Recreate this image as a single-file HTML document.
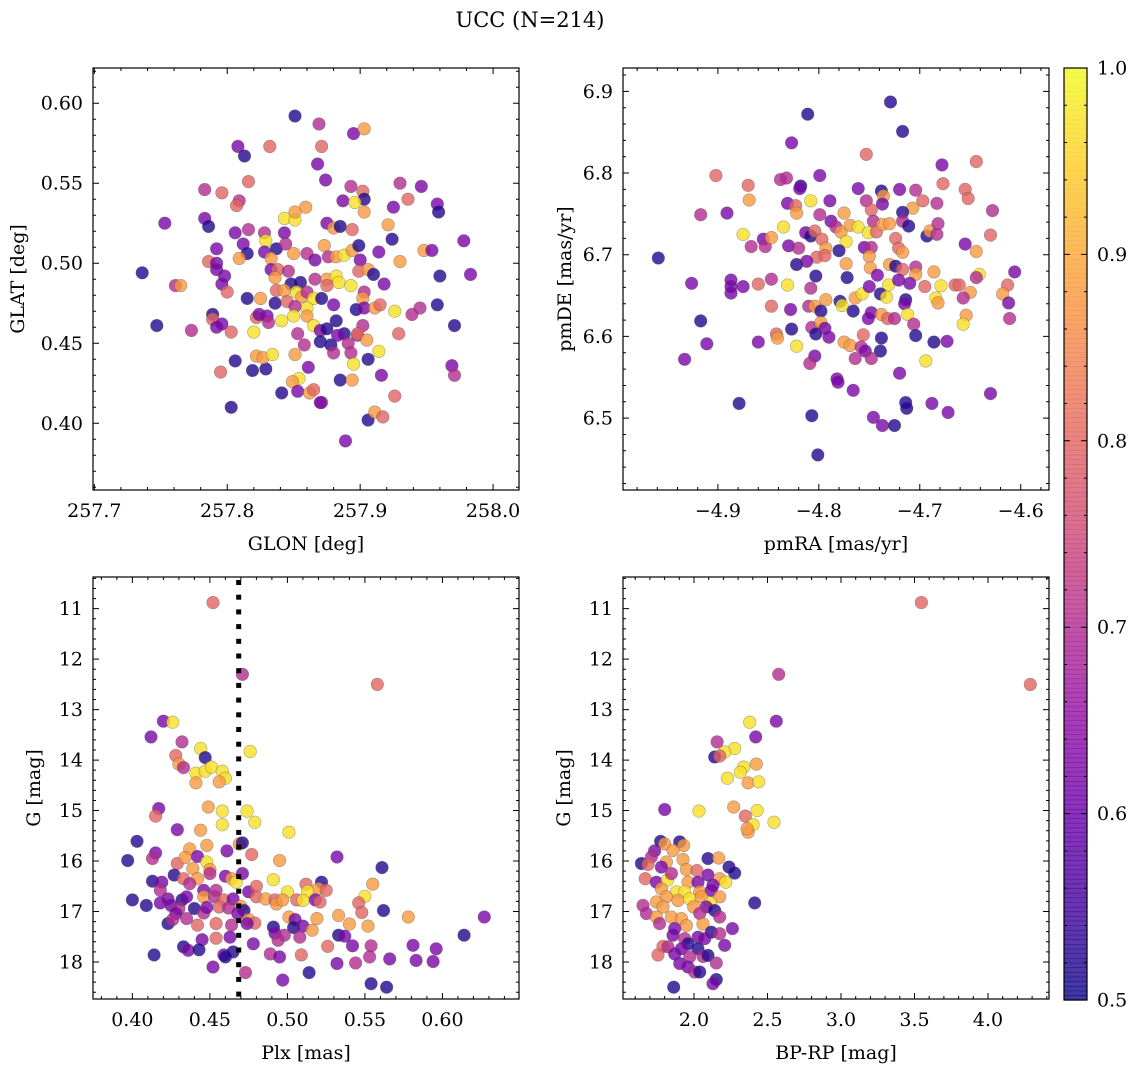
<!DOCTYPE html>
<html><head><meta charset="utf-8">
<style>
html,body{margin:0;padding:0;background:#fff;}
svg{display:block;font-family:"DejaVu Serif","Liberation Serif",serif;}
</style></head>
<body>
<svg id="fig" width="1136" height="1067" viewBox="0 0 1136 1067" xmlns="http://www.w3.org/2000/svg">
<rect width="1136" height="1067" fill="#fff"/>
<text x="530" y="27" font-size="21" text-anchor="middle">UCC (N=214)</text>
</svg>
<script>
// ---- Panel 1: GLON vs GLAT ----
const p1x=[257.851,257.869,257.895,257.903,257.808,257.813,257.832,257.871,257.868,257.874,257.816,257.783,257.796,257.893,257.902,257.903,257.930,257.946,257.936,257.887,257.896,257.903,257.925,257.958,257.959,257.809,257.807,257.859,257.843,257.851,257.851,257.753,257.783,257.786,257.806,257.816,257.828,257.843,257.875,257.880,257.885,257.894,257.921,257.924,257.978,257.829,257.792,257.812,257.815,257.809,257.828,257.837,257.844,257.850,257.860,257.866,257.873,257.876,257.882,257.888,257.894,257.899,257.900,257.914,257.930,257.948,257.954,257.960,257.983,257.736,257.786,257.792,257.792,257.798,257.796,257.800,257.761,257.765,257.833,257.833,257.838,257.846,257.836,257.848,257.855,257.866,257.875,257.882,257.884,257.893,257.899,257.906,257.910,257.918,257.903,257.902,257.815,257.825,257.837,257.836,257.843,257.845,257.852,257.856,257.860,257.865,257.871,257.875,257.880,257.860,257.851,257.897,257.903,257.911,257.915,257.926,257.939,257.945,257.958,257.971,257.747,257.773,257.789,257.789,257.792,257.796,257.803,257.822,257.824,257.830,257.831,257.841,257.850,257.860,257.865,257.870,257.875,257.882,257.888,257.898,257.902,257.898,257.905,257.914,257.929,257.820,257.853,257.858,257.870,257.878,257.880,257.883,257.891,257.893,257.895,257.906,257.916,257.926,257.969,257.971,257.806,257.795,257.819,257.829,257.822,257.827,257.834,257.851,257.861,257.854,257.849,257.853,257.841,257.862,257.865,257.871,257.870,257.885,257.894,257.803,257.906,257.911,257.917,257.889];
const p1y=[0.592,0.587,0.581,0.584,0.573,0.567,0.573,0.573,0.562,0.552,0.551,0.546,0.544,0.548,0.545,0.540,0.550,0.548,0.540,0.539,0.538,0.532,0.535,0.537,0.532,0.539,0.536,0.535,0.528,0.527,0.532,0.525,0.528,0.523,0.519,0.521,0.519,0.519,0.525,0.522,0.523,0.521,0.524,0.515,0.514,0.514,0.509,0.512,0.506,0.503,0.507,0.509,0.512,0.506,0.506,0.502,0.511,0.504,0.504,0.505,0.508,0.511,0.502,0.507,0.501,0.508,0.508,0.492,0.493,0.494,0.501,0.500,0.496,0.492,0.487,0.482,0.486,0.486,0.503,0.496,0.496,0.495,0.491,0.487,0.488,0.490,0.490,0.492,0.488,0.486,0.495,0.496,0.493,0.487,0.482,0.478,0.478,0.478,0.483,0.475,0.483,0.476,0.482,0.479,0.482,0.478,0.478,0.486,0.474,0.472,0.473,0.471,0.472,0.472,0.474,0.470,0.468,0.472,0.474,0.461,0.461,0.458,0.468,0.465,0.460,0.462,0.457,0.466,0.468,0.467,0.463,0.464,0.467,0.467,0.461,0.458,0.459,0.464,0.456,0.455,0.461,0.456,0.452,0.445,0.456,0.457,0.456,0.449,0.451,0.449,0.444,0.455,0.450,0.444,0.437,0.440,0.430,0.417,0.436,0.430,0.439,0.432,0.433,0.434,0.442,0.441,0.443,0.443,0.435,0.428,0.426,0.420,0.419,0.419,0.421,0.413,0.413,0.427,0.427,0.410,0.402,0.407,0.404,0.389];
const p1c=[.52,.70,.62,.88,.62,.52,.80,.80,.62,.62,.80,.70,.80,.70,.80,.52,.70,.62,.80,.62,.97,.88,.62,.62,.52,.70,.80,.88,.97,.97,.88,.62,.62,.52,.62,.70,.70,.62,.62,.88,.52,.80,.88,.52,.62,.97,.62,.62,.52,.88,.62,.52,.70,.88,.70,.62,.88,.70,.88,.97,.88,.52,.62,.62,.88,.88,.62,.52,.62,.52,.80,.62,.62,.62,.62,.80,.70,.88,.88,.62,.80,.70,.88,.52,.52,.70,.88,.97,.97,.97,.80,.88,.52,.62,.70,.88,.52,.88,.80,.52,.88,.80,.97,.88,.70,.97,.52,.80,.62,.97,.70,.52,.62,.88,.80,.97,.70,.70,.52,.52,.52,.70,.52,.80,.62,.62,.80,.80,.62,.62,.70,.97,.97,.88,.97,.62,.52,.52,.52,.70,.70,.80,.88,.97,.80,.97,.70,.70,.52,.52,.70,.62,.70,.70,.97,.52,.62,.80,.62,.70,.52,.80,.52,.52,.88,.88,.97,.88,.62,.97,.88,.62,.52,.88,.80,.70,.62,.52,.88,.52,.52,.88,.80,.62];
const p1xTicks=[257.7,257.8,257.9,258.0];
const p1yTicks=[0.40,0.45,0.50,0.55,0.60];

// ---- Panel 2: pmRA vs pmDE ----
const p2x=[-4.729,-4.811,-4.717,-4.827,-4.753,-4.678,-4.644,-4.902,-4.799,-4.838,-4.832,-4.870,-4.818,-4.819,-4.677,-4.655,-4.652,-4.761,-4.738,-4.720,-4.704,-4.869,-4.808,-4.831,-4.789,-4.753,-4.736,-4.737,-4.697,-4.683,-4.707,-4.628,-4.917,-4.891,-4.823,-4.822,-4.799,-4.775,-4.748,-4.717,-4.788,-4.746,-4.875,-4.835,-4.867,-4.855,-4.853,-4.847,-4.830,-4.820,-4.813,-4.808,-4.804,-4.797,-4.783,-4.778,-4.769,-4.761,-4.773,-4.751,-4.743,-4.737,-4.730,-4.717,-4.711,-4.693,-4.690,-4.683,-4.682,-4.655,-4.630,-4.793,-4.780,-4.755,-4.748,-4.724,-4.721,-4.717,-4.802,-4.794,-4.750,-4.644,-4.959,-4.822,-4.812,-4.773,-4.749,-4.730,-4.724,-4.717,-4.704,-4.704,-4.686,-4.641,-4.644,-4.606,-4.926,-4.887,-4.887,-4.887,-4.875,-4.860,-4.847,-4.831,-4.803,-4.772,-4.742,-4.731,-4.721,-4.710,-4.695,-4.679,-4.665,-4.661,-4.650,-4.613,-4.618,-4.808,-4.793,-4.779,-4.777,-4.764,-4.757,-4.750,-4.739,-4.733,-4.714,-4.715,-4.684,-4.682,-4.657,-4.612,-4.847,-4.828,-4.810,-4.804,-4.798,-4.766,-4.748,-4.751,-4.738,-4.732,-4.725,-4.712,-4.706,-4.654,-4.657,-4.611,-4.917,-4.827,-4.807,-4.798,-4.803,-4.794,-4.790,-4.842,-4.841,-4.756,-4.738,-4.704,-4.911,-4.860,-4.822,-4.775,-4.769,-4.758,-4.739,-4.754,-4.764,-4.748,-4.686,-4.673,-4.933,-4.804,-4.809,-4.694,-4.720,-4.782,-4.781,-4.766,-4.630,-4.879,-4.807,-4.746,-4.737,-4.725,-4.714,-4.713,-4.688,-4.672,-4.801];
const p2y=[6.887,6.872,6.851,6.837,6.823,6.810,6.814,6.797,6.797,6.792,6.794,6.785,6.784,6.781,6.787,6.780,6.769,6.781,6.778,6.780,6.779,6.767,6.766,6.763,6.766,6.766,6.772,6.762,6.766,6.763,6.757,6.754,6.749,6.751,6.760,6.751,6.749,6.751,6.755,6.752,6.741,6.741,6.725,6.734,6.710,6.719,6.710,6.721,6.711,6.708,6.727,6.723,6.729,6.719,6.734,6.728,6.736,6.734,6.716,6.727,6.728,6.737,6.738,6.741,6.735,6.723,6.729,6.725,6.738,6.713,6.724,6.708,6.705,6.709,6.709,6.720,6.708,6.703,6.697,6.699,6.698,6.704,6.696,6.688,6.692,6.689,6.684,6.688,6.686,6.682,6.685,6.676,6.679,6.676,6.672,6.679,6.665,6.669,6.661,6.653,6.661,6.664,6.670,6.663,6.674,6.672,6.675,6.663,6.669,6.665,6.661,6.662,6.663,6.663,6.654,6.663,6.652,6.659,6.645,6.643,6.638,6.647,6.652,6.661,6.652,6.648,6.645,6.640,6.647,6.641,6.647,6.641,6.637,6.633,6.637,6.637,6.631,6.631,6.629,6.622,6.627,6.622,6.622,6.627,6.615,6.626,6.615,6.622,6.619,6.609,6.611,6.617,6.603,6.610,6.599,6.603,6.598,6.602,6.598,6.601,6.591,6.593,6.588,6.593,6.589,6.587,6.582,6.582,6.573,6.573,6.593,6.594,6.572,6.576,6.567,6.570,6.555,6.548,6.544,6.534,6.530,6.518,6.503,6.501,6.491,6.491,6.519,6.512,6.518,6.507,6.455];
const p2c=[.52,.52,.52,.62,.80,.62,.80,.80,.62,.70,.70,.80,.52,.62,.80,.80,.80,.62,.52,.62,.70,.88,.97,.62,.62,.70,.88,.62,.80,.70,.88,.70,.70,.62,.80,.88,.70,.88,.80,.52,.62,.70,.97,.97,.70,.62,.70,.88,.62,.70,.62,.52,.80,.80,.70,.88,.88,.97,.97,.97,.80,.88,.88,.70,.52,.52,.88,.70,.70,.62,.80,.88,.52,.62,.70,.80,.80,.88,.80,.80,.88,.88,.52,.52,.62,.88,.88,.88,.52,.80,.70,.88,.88,.97,.70,.62,.62,.62,.62,.62,.62,.80,.70,.97,.52,.52,.62,.97,.62,.62,.80,.97,.80,.80,.88,.80,.88,.70,.88,.52,.97,.88,.97,.62,.52,.97,.52,.62,.97,.88,.70,.62,.80,.62,.70,.88,.52,.52,.62,.62,.88,.80,.70,.97,.70,.88,.97,.70,.52,.52,.70,.88,.52,.62,.62,.80,.88,.80,.52,.52,.62,.62,.97,.88,.88,.70,.52,.62,.70,.70,.52,.62,.62,.62,.70,.97,.62,.62,.62,.62,.62,.52,.52,.62,.62,.52,.52,.52,.62,.62,.52];
const p2xTicks=[-4.9,-4.8,-4.7,-4.6];
const p2yTicks=[6.5,6.6,6.7,6.8,6.9];

// ---- Panel 3: Plx vs G ----
const p3x=[0.452,0.471,0.558,0.420,0.426,0.412,0.432,0.444,0.447,0.476,0.428,0.430,0.433,0.441,0.447,0.451,0.458,0.460,0.456,0.441,0.417,0.415,0.449,0.458,0.474,0.479,0.458,0.429,0.444,0.501,0.403,0.397,0.415,0.413,0.437,0.448,0.461,0.469,0.471,0.477,0.495,0.532,0.561,0.429,0.434,0.442,0.448,0.450,0.439,0.427,0.442,0.450,0.460,0.464,0.467,0.471,0.413,0.419,0.418,0.433,0.437,0.446,0.454,0.475,0.480,0.491,0.500,0.512,0.522,0.520,0.525,0.513,0.555,0.400,0.409,0.418,0.423,0.432,0.435,0.446,0.453,0.459,0.465,0.470,0.472,0.480,0.486,0.492,0.493,0.497,0.506,0.510,0.518,0.521,0.550,0.546,0.548,0.562,0.578,0.627,0.425,0.430,0.428,0.435,0.440,0.446,0.448,0.456,0.462,0.468,0.475,0.479,0.423,0.426,0.442,0.454,0.464,0.474,0.491,0.492,0.501,0.505,0.504,0.510,0.516,0.519,0.533,0.540,0.552,0.533,0.537,0.498,0.494,0.508,0.478,0.463,0.445,0.454,0.433,0.436,0.443,0.414,0.459,0.460,0.465,0.489,0.495,0.509,0.526,0.542,0.554,0.553,0.566,0.532,0.544,0.581,0.583,0.596,0.594,0.614,0.452,0.473,0.497,0.514,0.554,0.564];
const p3y=[10.88,12.30,12.50,13.23,13.25,13.54,13.64,13.77,13.95,13.83,13.91,14.08,14.15,14.26,14.22,14.14,14.22,14.36,14.43,14.45,14.96,15.11,14.93,15.01,15.01,15.23,15.28,15.38,15.39,15.43,15.61,15.99,15.84,15.95,15.76,15.69,15.80,15.66,15.64,15.87,15.99,15.92,16.13,16.05,15.93,15.91,16.02,16.17,16.15,16.28,16.35,16.25,16.30,16.35,16.42,16.25,16.40,16.42,16.58,16.35,16.45,16.58,16.58,16.61,16.50,16.37,16.61,16.46,16.42,16.55,16.58,16.60,16.46,16.77,16.88,16.83,16.75,16.77,16.71,16.71,16.71,16.77,16.75,16.90,16.98,16.71,16.75,16.77,16.85,16.77,16.77,16.78,16.77,16.81,16.70,16.83,17.02,16.98,17.11,17.11,16.88,16.94,17.04,17.14,16.94,17.03,16.92,16.91,16.93,17.04,17.16,17.23,17.24,17.16,17.27,17.24,17.27,17.24,17.31,17.43,17.11,17.16,17.32,17.29,17.37,17.14,17.08,17.25,17.29,17.47,17.49,17.47,17.57,17.51,17.64,17.51,17.56,17.53,17.70,17.77,17.76,17.86,17.86,17.90,17.80,17.84,17.90,17.86,17.69,17.68,17.68,17.90,17.94,18.03,18.02,17.67,17.97,17.74,17.99,17.47,18.10,18.21,18.36,18.21,18.43,18.50];
const p3c=[.80,.70,.80,.62,.97,.62,.70,.97,.52,.97,.80,.88,.70,.97,.97,.97,.97,.97,.88,.88,.62,.80,.88,.97,.97,.97,.97,.62,.88,.97,.52,.52,.62,.70,.88,.88,.62,.88,.52,.80,.88,.62,.52,.80,.88,.62,.97,.88,.88,.52,.88,.70,.62,.88,.97,.62,.52,.62,.70,.80,.70,.62,.70,.62,.80,.97,.97,.80,.52,.88,.80,.97,.88,.52,.52,.62,.62,.52,.62,.88,.70,.80,.62,.88,.52,.80,.88,.80,.88,.88,.80,.97,.62,.80,.97,.80,.80,.52,.88,.62,.62,.70,.62,.70,.52,.70,.62,.80,.70,.62,.88,.80,.52,.70,.80,.80,.70,.62,.52,.62,.88,.62,.52,.62,.88,.88,.88,.88,.88,.52,.62,.70,.70,.70,.62,.62,.62,.80,.52,.62,.52,.52,.62,.52,.52,.70,.62,.80,.80,.62,.70,.70,.62,.62,.70,.62,.62,.62,.62,.52,.62,.70,.62,.52,.52,.52];
const p3xTicks=[0.40,0.45,0.50,0.55,0.60];
const p3yTicks=[11,12,13,14,15,16,17,18];
const plxCut=0.4686;

// ---- Panel 4: BP-RP vs G ----
const p4x=[3.547,2.576,4.288,2.379,2.560,2.420,2.157,2.277,2.209,2.141,2.175,2.338,2.424,2.315,2.227,2.368,2.440,1.801,2.034,2.270,2.349,2.429,2.402,2.544,2.368,2.361,1.773,1.801,1.903,1.930,1.857,1.732,1.710,1.812,1.925,2.095,2.168,1.642,1.687,1.778,1.948,2.020,2.238,2.277,2.095,2.175,2.216,1.669,1.744,1.819,1.846,1.959,2.027,2.129,1.880,1.937,1.778,1.812,2.039,2.118,2.175,1.744,1.789,1.891,1.971,2.050,2.111,1.653,1.676,1.998,2.084,2.141,2.413,1.744,1.846,1.914,2.039,2.175,1.766,1.948,2.061,1.869,2.261,2.118,1.857,2.027,2.175,1.937,2.073,1.959,2.209,1.789,1.823,1.914,2.027,1.755,1.869,1.971,2.061,2.095,2.152,1.903,1.959,2.005,2.039,2.152,2.129,1.862];
const p4y=[10.88,12.30,12.50,13.25,13.23,13.54,13.64,13.77,13.84,13.94,13.92,14.14,14.08,14.24,14.36,14.45,14.43,14.98,15.01,14.93,15.11,15.00,15.28,15.23,15.43,15.36,15.61,15.66,15.62,15.69,15.79,15.80,15.92,16.02,15.97,15.95,15.94,16.05,16.07,16.12,16.17,16.19,16.12,16.24,16.28,16.35,16.42,16.35,16.42,16.38,16.25,16.42,16.42,16.48,16.61,16.61,16.55,16.71,16.61,16.58,16.71,16.81,16.91,16.78,16.75,16.71,16.83,16.88,17.04,16.91,16.91,16.98,16.83,17.11,17.11,17.14,17.04,17.11,17.24,17.28,17.25,17.34,17.34,17.41,17.47,17.51,17.44,17.54,17.54,17.64,17.67,17.69,17.70,17.74,17.74,17.86,17.84,17.90,17.89,17.87,18.02,18.03,18.10,18.20,18.20,18.35,18.43,18.50];
const p4c=[.80,.70,.80,.97,.62,.62,.70,.97,.97,.52,.80,.97,.88,.97,.97,.88,.97,.62,.97,.88,.80,.97,.97,.97,.88,.88,.52,.88,.52,.88,.88,.62,.70,.88,.88,.52,.88,.52,.80,.62,.88,.80,.52,.52,.62,.88,.97,.80,.62,.97,.70,.88,.62,.62,.97,.97,.88,.88,.88,.62,.88,.88,.88,.88,.97,.88,.97,.70,.70,.88,.62,.52,.52,.88,.88,.88,.70,.70,.70,.88,.88,.62,.62,.52,.62,.62,.70,.70,.62,.52,.62,.80,.70,.62,.52,.80,.62,.70,.70,.52,.70,.62,.62,.70,.52,.52,.62,.52];
const p4xTicks=[2.0,2.5,3.0,3.5,4.0];
const p4yTicks=[11,12,13,14,15,16,17,18];

const cbTicks=[0.5,0.6,0.7,0.8,0.9,1.0];

const NS='http://www.w3.org/2000/svg';
const svg=document.getElementById('fig');
const plasma=[[13,8,135],[65,4,157],[106,0,168],[143,13,164],[177,42,144],[204,71,120],[225,100,98],[242,132,75],[252,166,54],[252,206,37],[240,249,33]];
function cmap(v){
  let t=(v-0.5)/0.5; t=Math.max(0,Math.min(1,t));
  const f=t*10, i=Math.min(9,Math.floor(f)), r=f-i;
  const a=plasma[i], b=plasma[i+1];
  return 'rgb('+[0,1,2].map(k=>Math.round(a[k]+(b[k]-a[k])*r)).join(',')+')';
}
function mk(tag,attrs,parent){
  const e=document.createElementNS(NS,tag);
  for(const k in attrs) e.setAttribute(k,attrs[k]);
  (parent||svg).appendChild(e);
  return e;
}
function range(lo,hi,step){const o=[];const s=Math.ceil(lo/step-1e-9);for(let i=s;i*step<=hi+1e-9;i++)o.push(+(i*step).toFixed(6));return o;}

function panel(o){
  const g=mk('g',{});
  
  
  const sx=v=>o.x0+(v-o.xmin)/(o.xmax-o.xmin)*(o.x1-o.x0);
  const sy=v=>o.inv ? o.y0+(v-o.ymin)/(o.ymax-o.ymin)*(o.y1-o.y0) : o.y1-(v-o.ymin)/(o.ymax-o.ymin)*(o.y1-o.y0);
  const cid='clip-'+o.name;
  const cp=mk('clipPath',{id:cid},g);
  mk('rect',{x:o.x0,y:o.y0,width:o.x1-o.x0,height:o.y1-o.y0},cp);
  const pts=mk('g',{'clip-path':'url(#'+cid+')'},g);
  
  
  const n=Math.min(o.xs.length,o.ys.length,o.cs.length);
  for(let i=0;i<n;i++){
    const c=mk('circle',{cx:sx(o.xs[i]).toFixed(1),cy:sy(o.ys[i]).toFixed(1),r:6.3,fill:cmap(o.cs[i]),'fill-opacity':0.8,stroke:'rgba(70,70,70,0.45)','stroke-width':0.6},pts);
    
    
  }
  if(o.vline!==undefined){
    const lg=mk('g',{},g);
    
    
    const lx=sx(o.vline);
    for(let yy=o.y0+3; yy<o.y1-2; yy+=14.7){
      mk('rect',{x:(lx-2.5).toFixed(1),y:yy.toFixed(1),width:5,height:5,fill:'#000'},lg);
    }
  }
  const fr=mk('rect',{x:o.x0,y:o.y0,width:o.x1-o.x0,height:o.y1-o.y0,fill:'none',stroke:'#000','stroke-width':1.2},g);
  
  
  let d='';
  range(o.xmin,o.xmax,o.xminor).forEach(v=>{const x=sx(v);d+=`M${x},${o.y1}v-3M${x},${o.y0}v3`;});
  range(o.ymin,o.ymax,o.yminor).forEach(v=>{const y=sy(v);d+=`M${o.x0},${y}h3M${o.x1},${y}h-3`;});
  o.xt.forEach(v=>{const x=sx(v);d+=`M${x},${o.y1}v-6M${x},${o.y0}v6`;});
  o.yt.forEach(v=>{const y=sy(v);d+=`M${o.x0},${y}h6M${o.x1},${y}h-6`;});
  const tk=mk('path',{d:d,stroke:'#000','stroke-width':1,fill:'none'},g);
  
  
  o.xt.forEach(v=>{
    const t=mk('text',{x:sx(v),y:o.y1+27,'font-size':19,'text-anchor':'middle'},g);
    
    
    t.textContent=v.toFixed(o.xdec).replace('-','\u2212');
  });
  o.yt.forEach(v=>{
    const t=mk('text',{x:o.x0-10,y:sy(v)+6.5,'font-size':19,'text-anchor':'end'},g);
    
    
    t.textContent=v.toFixed(o.ydec);
  });
  const xl=mk('text',{x:(o.x0+o.x1)/2,y:o.y1+60,'font-size':19,'text-anchor':'middle'},g);
  
  
  xl.textContent=o.xlabel;
  const yx=o.x0-o.ylOff, yy=(o.y0+o.y1)/2;
  const yl=mk('text',{x:yx,y:yy,'font-size':19,'text-anchor':'middle',transform:`rotate(-90 ${yx} ${yy})`},g);
  
  
  yl.textContent=o.ylabel;
}

panel({name:'glon-glat-panel',x0:93,x1:519,y0:68,y1:490,xmin:257.699,xmax:258.0195,ymin:0.3583,ymax:0.622,xs:p1x,ys:p1y,cs:p1c,xt:p1xTicks,yt:p1yTicks,xminor:0.02,yminor:0.01,xdec:1,ydec:2,xlabel:'GLON [deg]',ylabel:'GLAT [deg]',ylOff:69});
panel({name:'pmra-pmde-panel',x0:623,x1:1049,y0:68,y1:490,xmin:-4.994,xmax:-4.572,ymin:6.412,ymax:6.9286,xs:p2x,ys:p2y,cs:p2c,xt:p2xTicks,yt:p2yTicks,xminor:0.02,yminor:0.02,xdec:1,ydec:1,xlabel:'pmRA [mas/yr]',ylabel:'pmDE [mas/yr]',ylOff:52});
panel({name:'plx-g-panel',x0:93,x1:519,y0:577,y1:999,xmin:0.3746,xmax:0.6494,ymin:10.3725,ymax:18.734,inv:true,xs:p3x,ys:p3y,cs:p3c,xt:p3xTicks,yt:p3yTicks,xminor:0.01,yminor:0.2,xdec:2,ydec:0,xlabel:'Plx [mas]',ylabel:'G [mag]',ylOff:53,vline:plxCut});
panel({name:'bprp-g-panel',x0:623,x1:1049,y0:577,y1:999,xmin:1.517,xmax:4.415,ymin:10.3725,ymax:18.734,inv:true,xs:p4x,ys:p4y,cs:p4c,xt:p4xTicks,yt:p4yTicks,xminor:0.1,yminor:0.2,xdec:1,ydec:0,xlabel:'BP-RP [mag]',ylabel:'G [mag]',ylOff:53});

// colorbar
(function(){
  const x0=1064,x1=1087,y0=68,y1=1000;
  const g=mk('g',{});
  
  
  const N=200;
  for(let i=0;i<N;i++){
    const v=0.5+0.5*(i+0.5)/N;
    const ya=y1-(i+1)*(y1-y0)/N;
    mk('rect',{x:x0,y:ya.toFixed(2),width:x1-x0,height:((y1-y0)/N+0.6).toFixed(2),fill:cmap(v),'fill-opacity':0.8},g);
  }
  mk('rect',{x:x0,y:y0,width:x1-x0,height:y1-y0,fill:'none',stroke:'#000','stroke-width':1.2},g);
  const sy=v=>y1-(v-0.5)/0.5*(y1-y0);
  let d='';
  range(0.5,1.0,0.02).forEach(v=>{d+=`M${x1},${sy(v)}h-3M${x0},${sy(v)}h3`;});
  cbTicks.forEach(v=>{d+=`M${x1},${sy(v)}h-6M${x0},${sy(v)}h6`;});
  mk('path',{d:d,stroke:'#000','stroke-width':1,fill:'none'},g);
  cbTicks.forEach(v=>{
    const t=mk('text',{x:x1+10,y:sy(v)+6.5,'font-size':19},g);
    
    
    t.textContent=v.toFixed(1);
  });
})();
</script>
</body></html>
